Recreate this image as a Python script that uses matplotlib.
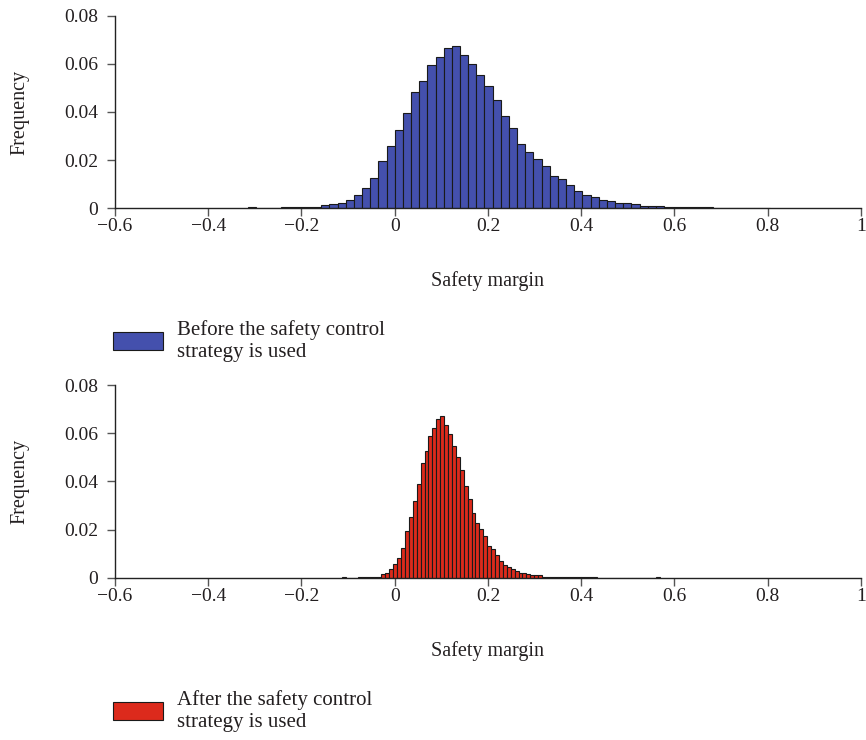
import matplotlib
matplotlib.use("Agg")
import matplotlib.pyplot as plt
import numpy as np
from matplotlib.ticker import FuncFormatter

plt.rcParams['font.family'] = ['Liberation Serif', 'DejaVu Serif']

# histogram before the safety control strategy (bin width 0.0175, first bin at -0.315)
before_start = -0.315
before_width = 0.0175
before_freq = [0.0005, 0.0001, 0.0001, 0.0001, 0.0003, 0.0003, 0.0003, 0.0003, 0.0004,
               0.0011, 0.0017, 0.0021, 0.0035, 0.0056, 0.0085, 0.0126, 0.0194, 0.0260,
               0.0325, 0.0395, 0.0485, 0.0529, 0.0595, 0.0628, 0.0667, 0.0676, 0.0638,
               0.0601, 0.0553, 0.0507, 0.0449, 0.0383, 0.0333, 0.0268, 0.0233, 0.0206,
               0.0174, 0.0135, 0.0119, 0.0094, 0.0069, 0.0056, 0.0044, 0.0035, 0.0029,
               0.0021, 0.0019, 0.0015, 0.0010, 0.0010, 0.0010,
               0.0005, 0.0004, 0.0004, 0.0003, 0.0003, 0.0003, 0.0002, 0.0002, 0.0002,
               0.0002, 0.0001, 0.0001, 0.0001]

# histogram after the safety control strategy (bin width 0.0084, first bin at -0.1125)
after_start = -0.1125
after_width = 0.0084
after_freq = [0.0005, 0.0, 0.0, 0.0, 0.0003, 0.0003, 0.0003, 0.0003, 0.0003, 0.0003,
              0.0014, 0.0019, 0.0035, 0.0056, 0.0083, 0.0124, 0.0193, 0.0253, 0.0317,
              0.0390, 0.0476, 0.0525, 0.0590, 0.0620, 0.0660, 0.0671, 0.0632, 0.0596,
              0.0545, 0.0500, 0.0446, 0.0382, 0.0328, 0.0268, 0.0229, 0.0203, 0.0174,
              0.0133, 0.0118, 0.0093, 0.0068, 0.0054, 0.0043, 0.0035, 0.0028, 0.0021,
              0.0019, 0.0015, 0.0010, 0.0010, 0.0010,
              0.0004, 0.0004, 0.0003, 0.0003, 0.0003, 0.0003, 0.0002, 0.0002, 0.0002,
              0.0002, 0.0002, 0.0001, 0.0001, 0.0001,
              0, 0, 0, 0, 0, 0, 0, 0, 0, 0, 0, 0, 0, 0, 0, 0.0004]

x_ticks = [-0.6, -0.4, -0.2, 0, 0.2, 0.4, 0.6, 0.8, 1]
y_ticks = [0, 0.02, 0.04, 0.06, 0.08]

labels = ["Before the safety control\nstrategy is used",
          "After the safety control\nstrategy is used"]
colors = ["#4450ad", "#dc2a1c"]
text_color = "#231f20"


def fmt(v, pos):
    s = "%g" % round(v, 4)
    return s.replace("-", "\u2212")


def draw_hist(ax, start, width, freq, color, label):
    edges = start + width * np.arange(len(freq) + 1)
    _, _, patches = ax.hist(edges[:-1], bins=edges, weights=freq, color=color,
                            edgecolor="#1a1a1a", linewidth=0.8, label=label)
    ax.set_xlim(-0.6, 1)
    ax.set_ylim(0, 0.08)
    ax.set_xticks(x_ticks)
    ax.set_yticks(y_ticks)
    ax.xaxis.set_major_formatter(FuncFormatter(fmt))
    ax.yaxis.set_major_formatter(FuncFormatter(fmt))
    for s in ["top", "right"]:
        ax.spines[s].set_visible(False)
    for s in ["left", "bottom"]:
        ax.spines[s].set_color("#222222")
        ax.spines[s].set_linewidth(1.0)
    ax.tick_params(direction="out", length=6, width=1, color="#555555",
                   labelsize=14, labelcolor=text_color)
    ax.tick_params(axis="x", pad=1.5)
    ax.tick_params(axis="y", pad=6)
    ax.set_xlabel("Safety margin", fontsize=14.5, color=text_color)
    ax.set_ylabel("Frequency", fontsize=14.5, color=text_color)
    ax.xaxis.label.set_va("center")
    ax.yaxis.label.set_va("center")
    ax.xaxis.set_label_coords(0.5, -0.38)
    ax.yaxis.set_label_coords(-0.127, 0.5)
    return patches


fig = plt.figure(figsize=(8.66, 7.4), dpi=100)
ax1 = fig.add_axes([0.1328, 0.7189, 0.8614, 0.2595])
ax2 = fig.add_axes([0.1328, 0.2193, 0.8614, 0.2604])

p1 = draw_hist(ax1, before_start, before_width, before_freq, colors[0], labels[0])
p2 = draw_hist(ax2, after_start, after_width, after_freq, colors[1], labels[1])

for patches, lab, ycen in [(p1, labels[0], 341), (p2, labels[1], 711)]:
    leg = fig.legend([patches[0]], [lab], loc="center left",
                     bbox_to_anchor=(113 / 866, 1 - ycen / 740), frameon=False,
                     fontsize=15, handlelength=2.4, handleheight=0.96,
                     handletextpad=0.65, borderpad=0, borderaxespad=0)
    for t in leg.get_texts():
        t.set_linespacing(1.15)
        t.set_color(text_color)

fig.savefig("out.png", dpi=100)
